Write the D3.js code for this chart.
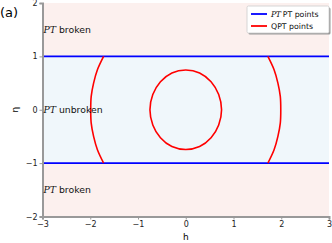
<!DOCTYPE html>
<html><head><meta charset="utf-8">
<script src="https://cdn.jsdelivr.net/npm/d3@7"></script>
<style>body{margin:0;background:#fff}svg{display:block;font-family:"DejaVu Sans",sans-serif}</style>
</head><body><svg id="c" width="332" height="243"></svg>
<script>
const xTicks = [-3, -2, -1, 0, 1, 2, 3];
const yTicks = [-2, -1, 0, 1, 2];
const xDomain = [-3, 3];
const yDomain = [-2, 2];
const ptLevels = [1, -1];
const regions = [
  {y0: 1, y1: 2, kind: "broken"},
  {y0: -1, y1: 1, kind: "unbroken"},
  {y0: -2, y1: -1, kind: "broken"}
];
const regionLabels = [
  {h: -3, eta: 1.5, text: "broken"},
  {h: -3, eta: 0, text: "unbroken"},
  {h: -3, eta: -1.5, text: "broken"}
];
const outerEta = [-1, -0.75, -0.5, -0.25, 0, 0.25, 0.5, 0.75, 1];
const outerH = [1.72, 1.85, 1.93, 1.98, 1.99, 1.98, 1.93, 1.85, 1.72];
const innerH = [0.75, 0.69, 0.53, 0.29, 0, -0.29, -0.53, -0.69, -0.75, -0.69, -0.53, -0.29, 0, 0.29, 0.53, 0.69];
const innerEta = [0, 0.285, 0.525, 0.69, 0.745, 0.69, 0.525, 0.285, 0, -0.285, -0.525, -0.69, -0.745, -0.69, -0.525, -0.285];
const legendItems = [
  {label: "PT points", color: "#0000ff", pt: true},
  {label: "QPT points", color: "#ff0000", pt: false}
];

const svg = d3.select("#c");
const x = d3.scaleLinear().domain(xDomain).range([42.5, 329]);
const y = d3.scaleLinear().domain(yDomain).range([216.5, 3]);

svg.selectAll("rect.reg").data(regions).enter().append("rect")
  .attr("x", x(xDomain[0])).attr("width", x(xDomain[1]) - x(xDomain[0]))
  .attr("y", d => y(d.y1)).attr("height", d => y(d.y0) - y(d.y1))
  .attr("fill", d => d.kind === "broken" ? "#fcf0ee" : "#f0f7fb");

svg.selectAll("line.pt").data(ptLevels).enter().append("line")
  .attr("x1", x(xDomain[0])).attr("x2", x(xDomain[1]))
  .attr("y1", d => y(d)).attr("y2", d => y(d))
  .attr("stroke", "#0000ff").attr("stroke-width", 1.8);

const line = d3.line().x(d => x(d[0])).y(d => y(d[1])).curve(d3.curveCardinal);
const right = outerEta.map((e, i) => [outerH[i], e]);
const left = outerEta.map((e, i) => [-outerH[i], e]);
[right, left].forEach(pts => svg.append("path").attr("d", line(pts))
  .attr("fill", "none").attr("stroke", "#ff0000").attr("stroke-width", 1.6));
const closed = d3.line().x(d => x(d[0])).y(d => y(d[1])).curve(d3.curveCardinalClosed);
svg.append("path").attr("d", closed(innerH.map((h, i) => [h, innerEta[i]])))
  .attr("fill", "none").attr("stroke", "#ff0000").attr("stroke-width", 1.6);

const gx = svg.append("g").attr("transform", `translate(0,${y(yDomain[0])})`)
  .call(d3.axisBottom(x).tickValues(xTicks).tickFormat(d => d < 0 ? "\u2212" + Math.abs(d) : d).tickSize(3).tickPadding(2));
const gy = svg.append("g").attr("transform", `translate(${x(xDomain[0])},0)`)
  .call(d3.axisLeft(y).tickValues(yTicks).tickFormat(d => d < 0 ? "\u2212" + Math.abs(d) : d).tickSize(3).tickPadding(2));
[gx, gy].forEach(g => {
  g.select(".domain").attr("stroke", "#999").attr("stroke-width", 2);
  g.selectAll(".tick line").attr("stroke", "#999");
  g.selectAll(".tick text").attr("fill", "#222").attr("font-size", 8).attr("font-family", "DejaVu Sans");
});

regionLabels.forEach(r => {
  const t = svg.append("text").attr("x", x(r.h) + 1).attr("y", y(r.eta)).attr("dy", "0.35em")
    .attr("font-size", 9.3).attr("fill", "#111");
  t.append("tspan").attr("font-style", "italic").attr("font-family", "DejaVu Serif").text("PT");
  t.append("tspan").text(" " + r.text);
});

svg.append("text").attr("x", x(0)).attr("y", 240).attr("text-anchor", "middle").attr("font-size", 9).text("h");
svg.append("text").attr("transform", `translate(18,${y(0)}) rotate(-90)`).attr("text-anchor", "middle").attr("font-size", 9).text("η");
svg.append("text").attr("x", 0).attr("y", 17).attr("font-size", 13).text("(a)");

const lg = svg.append("g").attr("transform", "translate(247,6)");
lg.append("rect").attr("x", 1.5).attr("y", 1.5).attr("width", 82).attr("height", 27).attr("fill", "#999").attr("rx", 1.5);
lg.append("rect").attr("x", 0).attr("y", 0).attr("width", 82).attr("height", 27).attr("fill", "#fff").attr("stroke", "#ccc").attr("stroke-width", 0.8).attr("rx", 1.5);
legendItems.forEach((d, i) => {
  const yy = 8 + i * 12;
  lg.append("line").attr("x1", 4).attr("x2", 20).attr("y1", yy).attr("y2", yy).attr("stroke", d.color).attr("stroke-width", 1.8);
  const t = lg.append("text").attr("x", 24).attr("y", yy).attr("dy", "0.35em").attr("font-size", 7.8).attr("fill", "#111");
  if (d.pt) {
    t.append("tspan").attr("font-style", "italic").attr("font-family", "DejaVu Serif").attr("letter-spacing", -0.6).text("PT");
    t.append("tspan").text(" " + d.label);
  } else t.text(d.label);
});
</script></body></html>
